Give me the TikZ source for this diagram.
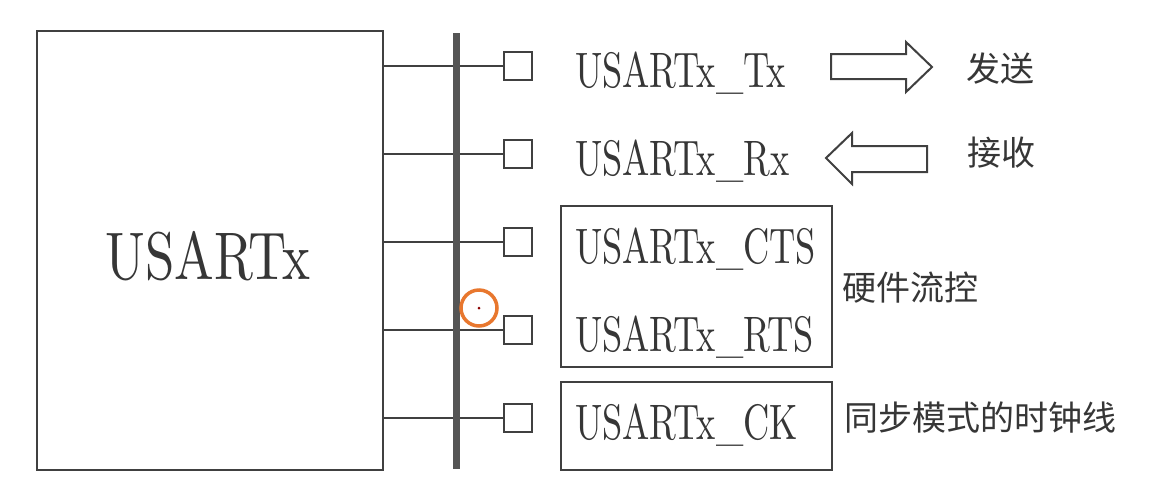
\documentclass[tikz,border=0pt]{standalone}
\usepackage{fontspec}
\usepackage{graphicx}
\newfontfamily\serifl{lmroman10-regular}[Extension=.otf]
\newfontfamily\cjk{Noto Sans CJK SC}
\newcommand\narrow[1]{\scalebox{0.73}[1]{#1}}
\newcommand\bignarrow[1]{\scalebox{0.785}[1]{#1}}
\definecolor{ink}{HTML}{404040}
\definecolor{txt}{HTML}{363636}
\definecolor{bus}{HTML}{555555}
\definecolor{cursor}{HTML}{E8772E}
\definecolor{dotred}{HTML}{8B0000}
\tikzset{
  pin/.style={draw=ink, line width=2pt, minimum size=28pt, inner sep=0pt, fill=white},
  lbl/.style={anchor=base west, inner sep=0pt, text=txt, font=\serifl\fontsize{49.8}{60}\selectfont},
  cn/.style={anchor=west, inner sep=0pt, text=txt, font=\cjk\fontsize{34}{40}\selectfont},
  wire/.style={draw=ink, line width=2pt},
  frame/.style={draw=ink, line width=2pt, inner sep=0pt},
  hollow/.style={draw=ink, line width=2pt, fill=white, line join=miter},
}
\begin{document}
\begin{tikzpicture}[x=1pt,y=-1pt]
\useasboundingbox[fill=white] (0,0) rectangle (1158,499);
% main block
\node[frame, minimum width=346pt, minimum height=439pt] (box) at (209.5,250.5) {};
\node[anchor=base, inner sep=0pt, text=txt, font=\serifl\fontsize{67.3}{80}\selectfont] (name) at (208,279) {\bignarrow{USARTx}};
% pins
\node[pin] (p1) at (518,66) {};
\node[pin] (p2) at (518,154) {};
\node[pin] (p3) at (518,242) {};
\node[pin] (p4) at (518,330) {};
\node[pin] (p5) at (518,418) {};
\foreach \i in {1,...,5} {
  \draw[wire] (box.east |- p\i) -- (p\i.west);
}
% bus
\coordinate (busTop) at (456,33);
\coordinate (busBot) at (456,469);
\draw[draw=bus, line width=7pt] (busTop) -- (busBot);
% labels
\node[lbl] (tx) at (575,87) {\narrow{USARTx\_Tx}};
\node[lbl] (rx) at (575,175) {\narrow{USARTx\_Rx}};
\node[lbl] (cts) at (575,263) {\narrow{USARTx\_CTS}};
\node[lbl] (rts) at (575,351) {\narrow{USARTx\_RTS}};
\node[lbl] (ck) at (575,439) {\narrow{USARTx\_CK}};
% frames
\node[frame, minimum width=271pt, minimum height=161pt] (flow) at (696.5,286.5) {};
\node[frame, minimum width=271pt, minimum height=88pt] (sync) at (696.5,426) {};
% arrows
\draw[hollow] (831,54) -- (906,54) -- (906,42) -- (932,67) -- (906,92) -- (906,79) -- (831,79) -- cycle;
\draw[hollow] (927,146) -- (852,146) -- (852,133) -- (826,158) -- (852,184) -- (852,172) -- (927,172) -- cycle;
% Chinese labels
\node[cn] (send) at (966,69) {发送};
\node[cn] (recv) at (967,153) {接收};
\node[cn] (hw) at (842,288) {硬件流控};
\node[cn] (clk) at (844,418) {同步模式的时钟线};
% cursor
\draw[cursor, line width=3.5pt] (479,308) circle (18);
\fill[dotred] (479,308) circle (1.5);
\end{tikzpicture}
\end{document}
